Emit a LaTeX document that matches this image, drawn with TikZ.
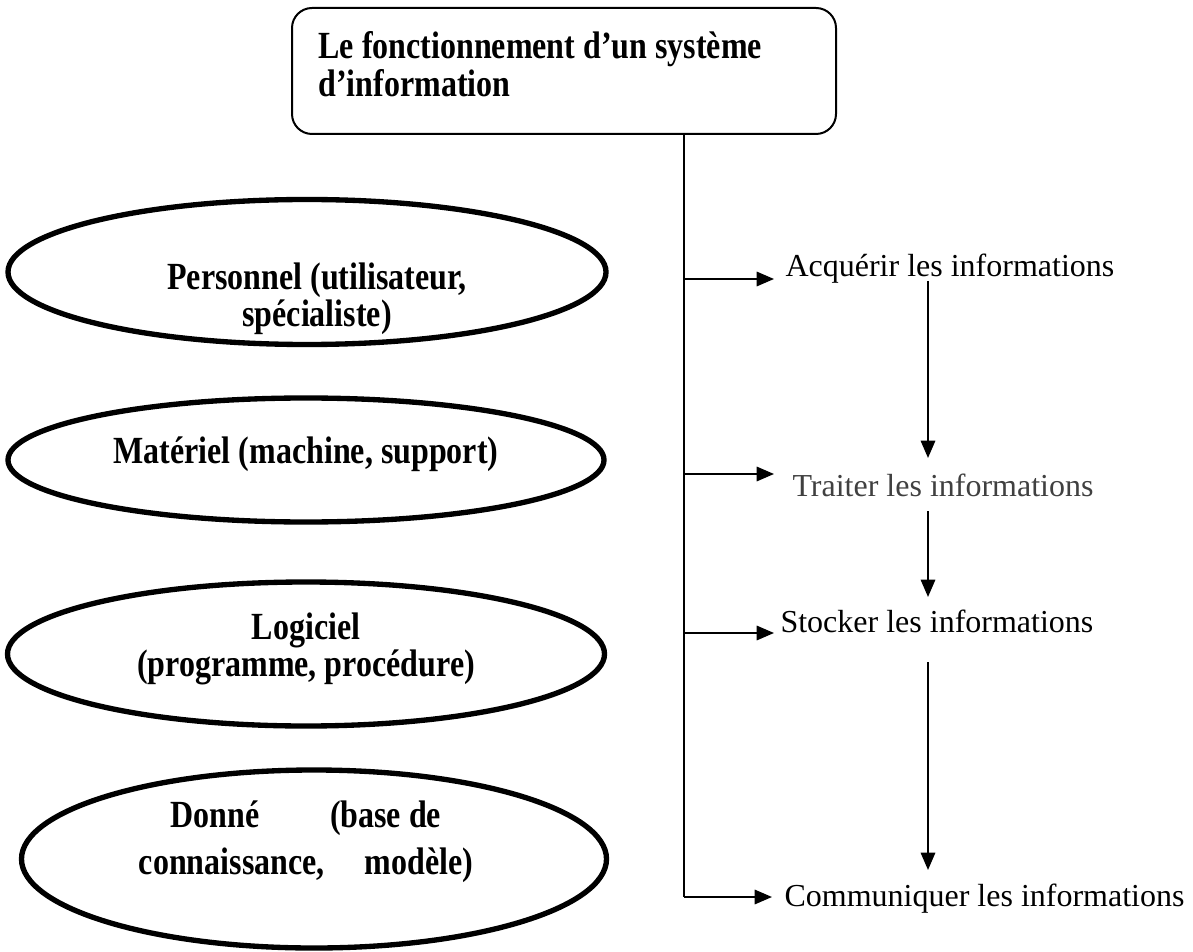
\documentclass[tikz,border=0pt]{standalone}
\usepackage{fontspec}
\usepackage{graphicx}
\setmainfont{Liberation Serif}
\usetikzlibrary{shapes.geometric,arrows.meta}
% bold block of lines, slightly stretched vertically
\newcommand{\tallblock}[2]{\scalebox{1}[1.2]{\fontsize{12}{11}\selectfont\bfseries
  \begin{tabular}{@{}#1@{}}#2\end{tabular}}}
\begin{document}
\begin{tikzpicture}[x=0.375pt,y=-0.375pt,
  every node/.style={font=\fontsize{12}{13.5}\selectfont, inner sep=0pt},
  oval/.style={draw, ellipse, line width=2pt, inner sep=0pt},
  titlebox/.style={draw, rounded corners=7.5pt, line width=0.75pt},
  stage/.style={anchor=west},
  link/.style={line width=0.75pt},
  tip/.style={link, -{Triangle[length=6.5pt,width=5.4pt]}}]
\useasboundingbox (0,0) rectangle (1193,951);

% title
\node[titlebox, minimum width=544*0.375pt, minimum height=126*0.375pt] (title) at (564,71) {};
\node[anchor=west] (titletext) at (318,69)
  {\tallblock{l}{Le fonctionnement d’un système\\d’information}};

% components
\node[oval, minimum width=598*0.375pt, minimum height=145*0.375pt] (o1) at (307,272) {};
\node[oval, minimum width=596*0.375pt, minimum height=124*0.375pt] (o2) at (306,460) {};
\node[oval, minimum width=597*0.375pt, minimum height=144*0.375pt] (o3) at (306,654) {};
\node[oval, minimum width=585*0.375pt, minimum height=178*0.375pt] (o4) at (314,859) {};
\node (t1) at (317,300) {\tallblock{c}{Personnel (utilisateur,\\spécialiste)}};
\node (t2) at (306,455) {\tallblock{c}{Matériel (machine, support)}};
\node (t3) at (306,650) {\tallblock{c}{Logiciel\\(programme, procédure)}};
\node (t4) at (306,843) {\tallblock{c}{Donné\hspace{2.2em}(base de\\[3pt]connaissance,\hspace{1em} modèle)}};

% steps
\node[stage] (s1) at (785,269) {Acquérir les informations};
\node[stage, text=black!75] (s2) at (792,485) {Traiter les informations};
\node[stage] (s3) at (780,621) {Stocker les informations};
\node[stage] (s4) at (784,899) {Communiquer les informations};

% trunk and branches
\coordinate (top) at (684,134);
\coordinate (b1) at (684,279);
\coordinate (b2) at (684,474);
\coordinate (b3) at (684,633);
\coordinate (b4) at (684,897);
\coordinate (e1) at (774,279);
\coordinate (e2) at (774,474);
\coordinate (e3) at (774,633);
\coordinate (e4) at (772,897);
\draw[link] (top) -- (b4);
\draw[tip] (b1) -- (e1);
\draw[tip] (b2) -- (e2);
\draw[tip] (b3) -- (e3);
\draw[tip] (b4) -- (e4);

% sequence
\coordinate (v1a) at (928,281);
\coordinate (v1b) at (928,458);
\coordinate (v2a) at (928,511);
\coordinate (v2b) at (928,597);
\coordinate (v3a) at (928,662);
\coordinate (v3b) at (928,870);
\draw[tip] (v1a) -- (v1b);
\draw[tip] (v2a) -- (v2b);
\draw[tip] (v3a) -- (v3b);
\end{tikzpicture}
\end{document}
